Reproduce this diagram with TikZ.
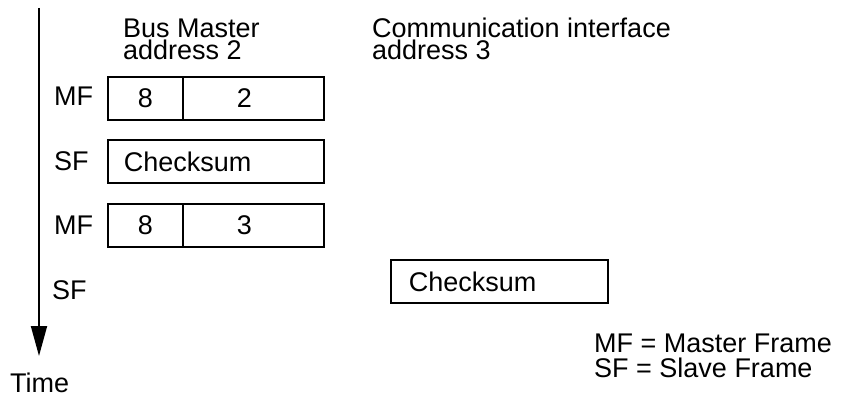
\documentclass[tikz,border=0pt]{standalone}
\usepackage{fontspec}
\setmainfont{Liberation Sans}
\usetikzlibrary{arrows.meta}
\begin{document}
\begin{tikzpicture}[x=1pt,y=-1pt,
  every node/.style={font=\fontsize{27}{24}\selectfont, inner sep=0pt},
  cell/.style={draw, line width=1.8pt, anchor=north west, minimum height=43pt},
  wide/.style={cell, minimum width=216pt, text width=184pt, inner xsep=16pt, align=left},
  second/.style={cell, minimum width=141pt, text width=33pt, inner xsep=54pt, align=left},
  lbl/.style={anchor=base west},
  timeline/.style={line width=1.8pt, -{Triangle[length=30pt,width=16pt]}}
  ]
\useasboundingbox (0,0) rectangle (843,398);

% time axis
\coordinate (tTop) at (39,8);
\coordinate (tEnd) at (39,356);
\draw[timeline] (tTop) -- (tEnd);
\node[lbl] (time) at (10,392) {Time};

% headings
\node[lbl] (bm1) at (123,38) {Bus Master};
\node[lbl] (bm2) at (123,60) {address 2};
\node[lbl] (ci1) at (372,38) {Communication interface};
\node[lbl] (ci2) at (372,60) {address 3};

% frame labels
\node[lbl] (l1) at (54,106) {MF};
\node[lbl] (l2) at (54,171) {SF};
\node[lbl] (l3) at (54,234) {MF};
\node[lbl] (l4) at (52,299) {SF};

% frames
\node[cell, minimum width=75pt] (mf1a) at (107,76) {8};
\node[second] (mf1b) at (182,76) {2};
\node[wide] (sf1) at (107,139) {Checksum};
\node[cell, minimum width=75pt] (mf2a) at (107,203) {8};
\node[second] (mf2b) at (182,203) {3};
\node[cell, minimum width=217pt, text width=181pt, inner xsep=18pt, align=left] (sf2) at (390,259) {Checksum};

% legend
\node[lbl] (leg1) at (594,352) {MF = Master Frame};
\node[lbl] (leg2) at (594,377) {SF = Slave Frame};
\end{tikzpicture}
\end{document}
